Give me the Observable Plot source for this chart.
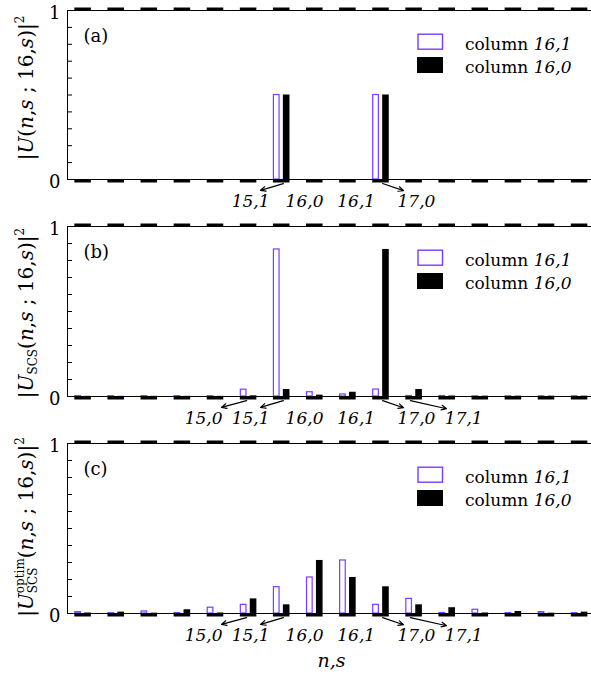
<!DOCTYPE html>
<html>
<head>
<meta charset="utf-8">
<script src="https://cdn.jsdelivr.net/npm/d3@7"></script>
<script src="https://cdn.jsdelivr.net/npm/@observablehq/plot@0.6"></script>
<style>
  body { margin: 0; background: #fff; }
  svg { display: block; }
</style>
</head>
<body>
<div id="chart"></div>
<script>
// ---------- data ----------
const states = ["12,1","13,0","13,1","14,0","14,1","15,0","15,1","16,0","16,1","17,0","17,1","18,0","18,1","19,0","19,1","20,0"];
const seriesNames = ["column 16,1", "column 16,0"];
// panel (a): |U(n,s;16,s)|^2
const aCol161 = [0,0,0,0,0,0,0.5,0,0,0.5,0,0,0,0,0,0];
const aCol160 = [0,0,0,0,0,0,0.5,0,0,0.5,0,0,0,0,0,0];
// panel (b): |U_SCS(n,s;16,s)|^2
const bCol161 = [0.002,0.002,0.002,0.002,0.002,0.040,0.865,0.025,0.012,0.041,0.003,0.003,0.001,0.001,0.001,0.001];
const bCol160 = [0.001,0.001,0.001,0.001,0.001,0.004,0.041,0.008,0.025,0.865,0.041,0.003,0.002,0.002,0.002,0.002];
// panel (c): |U_SCS^optim(n,s;16,s)|^2
const cCol161 = [0.008,0.002,0.012,0.003,0.034,0.051,0.155,0.212,0.312,0.051,0.086,0.003,0.022,0.002,0.008,0.002];
const cCol160 = [0.003,0.008,0.002,0.022,0.003,0.086,0.051,0.312,0.212,0.157,0.051,0.034,0.003,0.012,0.002,0.008];
const yTicks = [0, 1];
const yMinorTicks = [0.1,0.2,0.3,0.4,0.5,0.6,0.7,0.8,0.9];
const labelsAll = ["15,0","15,1","16,0","16,1","17,0","17,1"];
const labelsA = ["15,1","16,0","16,1","17,0"];
const arrowsAll = ["15,0","15,1","17,0","17,1"];
const arrowsA = ["15,1","17,0"];

// ---------- layout (not data) ----------
const PURPLE = "#7b3cff";
const FONT = "DejaVu Serif";
const W = 591, ML = 67, MR = -4;
const X0 = 82.6, STEP = 33.1;              // pixel position of first state, pixels per state
const frameLeftX = (ML - X0) / STEP;        // frame left edge in x-scale units
const tickLen = 5 / STEP;                   // 5 px inward minor ticks
const labelShift = {"15,0": -1.36, "15,1": -0.94, "16,0": -0.31, "16,1": 0.25, "17,0": 1.07, "17,1": 1.5};
const arrowGeom = {
  "15,0": {from: -0.06, to: -0.82, drop: 0.064},
  "15,1": {from: 0.05, to: -0.64, drop: 0.064},
  "17,0": {from: 0.05, to: 0.68, drop: 0.066},
  "17,1": {from: -0.11, to: 0.98, drop: 0.072}
};
const idx = s => states.indexOf(s);

function panel({p, b, tag, h, mt, mb, labels, arrows, xLabel, yl}) {
  const data = states.map((s, i) => ({s, i, p: p[i], b: b[i]}));
  const marks = [
    Plot.rectY(data, {x1: d => d.i - 0.235, x2: d => d.i - 0.065, y1: () => 0, y2: "p",
      fill: "white", stroke: PURPLE, strokeWidth: 1.2}),
    Plot.rectY(data, {x1: d => d.i + 0.05, x2: d => d.i + 0.25, y1: () => 0, y2: "b", fill: "black"}),
    Plot.frame({stroke: "black", strokeWidth: 1}),
    Plot.ruleY(data, {y: () => 0, x1: d => d.i - 0.25, x2: d => d.i + 0.25, strokeWidth: 3, dy: 1.5, stroke: "black"}),
    Plot.ruleY(data, {y: () => 1, x1: d => d.i - 0.25, x2: d => d.i + 0.25, strokeWidth: 3, dy: -1.5, stroke: "black"}),
    Plot.ruleY(yMinorTicks, {y: d => d, x1: () => frameLeftX, x2: () => frameLeftX + tickLen, stroke: "black", strokeWidth: 1}),
    Plot.axisY(yTicks, {tickSize: 0, tickPadding: 7, fontSize: 18, dy: 3, label: null, tickFormat: d => String(d)}),
    Plot.text([tag], {frameAnchor: "top-left", dx: 16, dy: 19, textAnchor: "start", fontSize: 18, text: d => d}),
    Plot.arrow(arrows, {
      x1: d => idx(d) + arrowGeom[d].from, x2: d => idx(d) + arrowGeom[d].to,
      y1: () => -0.024, y2: d => -arrowGeom[d].drop,
      stroke: "black", strokeWidth: 1.2, headLength: 7, headAngle: 50
    }),
    Plot.text(labels, {x: d => idx(d) + labelShift[d], y: () => 0, text: d => d, dy: 22.5,
      fontSize: 17, fontStyle: "italic"})
  ];
  if (xLabel) marks.push(Plot.text([xLabel], {frameAnchor: "bottom", dy: 53, text: d => d, fontSize: 19, fontStyle: "italic"}));
  const chart = Plot.plot({
    width: W, height: h, marginLeft: ML, marginRight: MR, marginTop: mt, marginBottom: mb,
    style: {fontFamily: FONT, background: "white", color: "black", overflow: "hidden"},
    x: {domain: [0, 15], range: [X0, X0 + 15 * STEP], axis: null},
    y: {domain: [0, 1], axis: null},
    marks
  });
  const svg = d3.select(chart);
  // legend
  const g = svg.append("g").attr("font-family", FONT).attr("font-size", 17).attr("fill", "black")
    .attr("text-anchor", "start");
  g.append("rect").attr("x", 418).attr("y", mt + 24.2).attr("width", 24.5).attr("height", 15)
    .attr("fill", "white").attr("stroke", PURPLE).attr("stroke-width", 1.4);
  g.append("rect").attr("x", 417).attr("y", mt + 47).attr("width", 26).attr("height", 16).attr("fill", "black");
  seriesNames.forEach((name, k) => {
    const [w, n] = name.split(" ");
    const t = g.append("text").attr("x", 465).attr("y", mt + 40 + k * 22.7).attr("text-anchor", "start");
    t.append("tspan").text(w + " ");
    t.append("tspan").attr("font-style", "italic").text(n);
  });
  // y label
  const t = svg.append("text").attr("transform", `translate(33,${yl.cy}) rotate(-90)`)
    .attr("text-anchor", "middle").attr("font-family", FONT).attr("font-size", 20).attr("fill", "black");
  t.append("tspan").text("|");
  t.append("tspan").attr("font-style", "italic").text("U");
  let rest;
  if (yl.variant === "b") {
    t.append("tspan").attr("font-size", 12).attr("dy", 4).text("SCS");
    rest = t.append("tspan").attr("dy", -4);
  } else if (yl.variant === "c") {
    const sup = t.append("tspan").attr("font-size", 12).attr("dy", -9).text("optim");
    const sub = t.append("tspan").attr("font-size", 12).attr("dy", 13).text("SCS");
    rest = t.append("tspan").attr("dy", -4);
    document.getElementById("chart").appendChild(chart);
    const ls = sup.node().getComputedTextLength();
    const lb = sub.node().getComputedTextLength();
    sub.attr("dx", -ls);
    rest.attr("dx", Math.max(0, ls - lb));
  } else {
    rest = t.append("tspan");
  }
  rest.text("(");
  t.append("tspan").attr("font-style", "italic").text("n");
  t.append("tspan").text(",");
  t.append("tspan").attr("font-style", "italic").text("s");
  t.append("tspan").text(" ; 16,");
  t.append("tspan").attr("font-style", "italic").text("s");
  t.append("tspan").text(")|");
  t.append("tspan").attr("font-size", 12).attr("dy", -9).text("2");
  return chart;
}

const root = document.getElementById("chart");
root.appendChild(panel({p: aCol161, b: aCol160, tag: "(a)", h: 217, mt: 10, mb: 38, labels: labelsA, arrows: arrowsA, yl: {cy: 88}}));
root.appendChild(panel({p: bCol161, b: bCol160, tag: "(b)", h: 217, mt: 9, mb: 38, labels: labelsAll, arrows: arrowsAll, yl: {cy: 96, variant: "b"}}));
root.appendChild(panel({p: cCol161, b: cCol160, tag: "(c)", h: 248, mt: 9, mb: 69, labels: labelsAll, arrows: arrowsAll, xLabel: "n,s", yl: {cy: 93, variant: "c"}}));
</script>
</body>
</html>
